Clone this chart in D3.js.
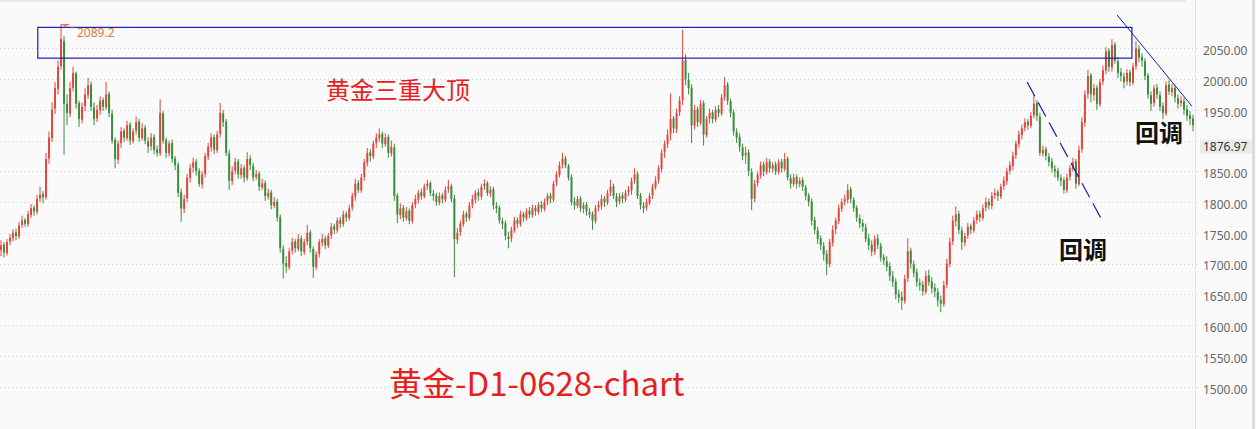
<!DOCTYPE html>
<html><head><meta charset="utf-8">
<script src="https://cdn.jsdelivr.net/npm/d3@7"></script>
<style>
html,body{margin:0;padding:0;background:#fafafa;}
svg{display:block;}
</style></head>
<body><svg id="chart" width="1256" height="429"></svg>
<script>
// ---------- DATA ----------
const open = [
1722,1731,1717,1736,1741,1751,1744,1763,1771,1764,
1779,1791,1784,1806,1813,1808,1871,1904,1952,1984,
2021,2062,1960,1944,1986,2009,1961,1934,1956,1974,
1991,1954,1936,1949,1966,1954,1976,1944,1901,1869,
1896,1916,1904,1926,1899,1916,1931,1904,1921,1899,
1891,1906,1886,1879,1944,1901,1879,1896,1871,1861,
1816,1789,1806,1839,1856,1866,1851,1829,1846,1874,
1889,1906,1884,1911,1944,1931,1879,1834,1851,1866,
1844,1856,1839,1871,1859,1841,1846,1824,1831,1809,
1816,1794,1801,1776,1724,1701,1694,1721,1736,1724,
1741,1719,1736,1751,1724,1694,1716,1734,1741,1729,
1746,1761,1754,1771,1764,1781,1774,1791,1809,1831,
1819,1841,1864,1881,1874,1896,1904,1911,1894,1906,
1879,1889,1811,1779,1791,1774,1786,1769,1796,1804,
1816,1809,1826,1831,1814,1811,1799,1811,1804,1821,
1826,1806,1739,1751,1764,1781,1774,1796,1804,1816,
1809,1826,1831,1814,1821,1794,1791,1769,1766,1744,
1741,1754,1771,1764,1781,1774,1786,1779,1791,1784,
1796,1789,1801,1811,1804,1831,1844,1861,1871,1859,
1841,1801,1794,1806,1789,1796,1784,1781,1769,1791,
1794,1806,1799,1816,1826,1809,1801,1811,1804,1816,
1819,1836,1846,1811,1794,1791,1799,1811,1824,1836,
1854,1881,1894,1911,1936,1919,1946,1966,2031,1999,
1986,1924,1951,1929,1961,1909,1936,1946,1934,1951,
1944,1971,1991,1964,1946,1914,1906,1889,1876,1881,
1849,1806,1831,1844,1861,1849,1866,1854,1861,1849,
1866,1854,1871,1839,1829,1841,1829,1836,1824,1811,
1801,1771,1754,1741,1729,1716,1699,1734,1756,1769,
1789,1801,1804,1821,1804,1791,1774,1766,1759,1741,
1731,1719,1741,1729,1711,1704,1696,1679,1671,1651,
1646,1639,1676,1721,1699,1686,1669,1666,1654,1681,
1671,1661,1654,1641,1634,1666,1699,1736,1769,1781,
1754,1734,1746,1761,1754,1771,1781,1774,1791,1801,
1794,1811,1816,1809,1826,1834,1851,1859,1876,1894,
1909,1921,1931,1924,1941,1961,1939,1879,1886,1874,
1866,1854,1851,1839,1836,1819,1841,1854,1866,1829,
1886,1929,1976,2006,1974,1986,1959,1996,2014,2046,
2019,2056,2029,2011,2004,1996,2011,1994,2021,2049,
2036,2029,2006,1974,1961,1986,1974,1956,1944,1991,
1979,1986,1969,1961,1964,1951,1941,1936];
const high = [
1738,1735,1740,1748,1756,1757,1768,1778,1774,1786,
1797,1795,1812,1825,1818,1880,1915,1962,1995,2030,
2089,2070,1975,1995,2020,2012,1965,1962,1985,2002,
1996,1962,1958,1972,1970,1995,1980,1950,1905,1900,
1922,1920,1932,1930,1920,1939,1935,1928,1925,1905,
1912,1910,1892,1967,1948,1905,1900,1902,1875,1865,
1822,1812,1846,1862,1872,1870,1855,1850,1880,1896,
1912,1910,1916,1961,1950,1935,1885,1858,1872,1870,
1862,1860,1881,1876,1864,1852,1850,1838,1835,1822,
1820,1808,1805,1780,1730,1712,1726,1742,1740,1748,
1746,1740,1763,1755,1728,1720,1740,1748,1745,1750,
1766,1765,1775,1776,1786,1785,1796,1815,1838,1836,
1846,1870,1888,1886,1900,1912,1920,1915,1912,1910,
1900,1895,1815,1798,1795,1792,1790,1800,1812,1820,
1822,1830,1836,1834,1820,1815,1816,1815,1826,1836,
1830,1812,1758,1770,1786,1785,1800,1812,1820,1822,
1830,1837,1834,1826,1825,1800,1795,1775,1770,1752,
1760,1776,1775,1786,1784,1790,1792,1796,1795,1800,
1802,1806,1815,1815,1835,1850,1866,1880,1875,1862,
1845,1808,1810,1810,1800,1800,1790,1785,1795,1802,
1812,1810,1820,1836,1830,1815,1815,1816,1820,1826,
1840,1855,1850,1815,1800,1806,1815,1830,1842,1860,
1886,1900,1918,1977,1940,1952,1972,2080,2040,2010,
1992,1958,1955,1966,1965,1940,1952,1950,1956,1958,
1976,2003,1995,1968,1950,1920,1912,1895,1890,1886,
1855,1836,1850,1866,1866,1872,1870,1865,1866,1870,
1870,1880,1874,1845,1846,1845,1840,1840,1828,1815,
1806,1776,1760,1746,1735,1722,1740,1762,1775,1796,
1806,1812,1829,1825,1808,1795,1780,1772,1765,1748,
1738,1746,1748,1734,1716,1712,1702,1688,1676,1658,
1655,1682,1741,1726,1705,1692,1676,1672,1688,1690,
1678,1668,1660,1648,1672,1708,1742,1778,1793,1786,
1760,1750,1766,1765,1776,1786,1786,1796,1808,1806,
1816,1822,1820,1830,1842,1856,1866,1882,1900,1916,
1926,1936,1935,1946,1974,1966,1945,1892,1890,1880,
1872,1860,1856,1845,1840,1846,1860,1872,1870,1892,
1938,1982,2015,2010,1992,1990,2000,2022,2052,2050,
2065,2060,2036,2018,2010,2016,2015,2026,2062,2055,
2042,2034,2010,1980,1990,1992,1980,1962,1996,1998,
1992,1990,1975,1972,1970,1958,1948,1942];
const low = [
1712,1710,1713,1730,1736,1738,1740,1758,1760,1760,
1774,1778,1780,1800,1798,1804,1862,1898,1943,1975,
2015,1877,1925,1938,1980,1952,1922,1928,1948,1968,
1948,1925,1930,1942,1948,1950,1938,1895,1855,1862,
1888,1898,1900,1893,1895,1910,1898,1900,1894,1880,
1884,1878,1874,1875,1895,1872,1874,1864,1852,1808,
1768,1782,1800,1832,1848,1843,1825,1822,1840,1868,
1882,1878,1880,1905,1922,1875,1820,1828,1845,1838,
1838,1832,1835,1852,1834,1836,1818,1820,1802,1804,
1788,1790,1768,1718,1676,1685,1690,1715,1718,1720,
1712,1714,1730,1718,1677,1690,1710,1728,1724,1725,
1740,1748,1750,1758,1760,1768,1770,1786,1802,1815,
1815,1835,1858,1866,1870,1888,1898,1888,1890,1872,
1874,1802,1766,1772,1768,1770,1764,1765,1790,1798,
1804,1806,1820,1810,1802,1794,1795,1798,1800,1815,
1800,1678,1732,1745,1760,1768,1770,1790,1798,1802,
1804,1820,1810,1808,1788,1782,1765,1756,1738,1725,
1735,1750,1758,1760,1768,1770,1774,1775,1778,1780,
1784,1785,1795,1798,1800,1826,1840,1855,1855,1835,
1795,1788,1790,1784,1782,1778,1774,1755,1765,1785,
1788,1792,1795,1810,1805,1792,1796,1798,1800,1810,
1812,1830,1805,1788,1782,1786,1795,1805,1820,1830,
1848,1872,1888,1900,1912,1912,1940,1958,1990,1975,
1896,1918,1922,1925,1892,1905,1928,1928,1930,1938,
1940,1965,1958,1938,1908,1896,1882,1868,1862,1842,
1787,1800,1825,1838,1842,1845,1848,1848,1844,1845,
1848,1850,1835,1822,1825,1822,1824,1818,1803,1793,
1762,1748,1732,1722,1705,1681,1694,1728,1748,1764,
1784,1795,1798,1798,1784,1768,1758,1752,1735,1722,
1712,1714,1724,1703,1698,1688,1672,1662,1642,1636,
1625,1635,1670,1692,1678,1662,1656,1648,1650,1664,
1652,1645,1630,1621,1630,1660,1694,1730,1760,1748,
1722,1728,1740,1748,1750,1765,1768,1770,1785,1788,
1788,1805,1802,1805,1820,1828,1845,1852,1870,1888,
1902,1915,1918,1920,1936,1932,1875,1874,1868,1858,
1848,1840,1834,1826,1814,1815,1835,1850,1822,1826,
1880,1922,1968,1962,1965,1950,1955,1990,2008,2012,
2012,2025,2002,1996,1985,1990,1988,1990,2015,2028,
2020,1998,1968,1948,1955,1968,1948,1935,1940,1974,
1972,1962,1952,1955,1942,1932,1925,1915];
const close = [
1730,1718,1735,1742,1750,1745,1762,1770,1765,1780,
1790,1785,1805,1812,1808,1870,1905,1950,1985,2020,
2065,1960,1945,1985,2010,1960,1935,1955,1975,1990,
1955,1935,1950,1965,1955,1975,1945,1900,1870,1895,
1915,1905,1925,1900,1915,1930,1905,1920,1900,1890,
1905,1885,1880,1945,1900,1880,1895,1870,1860,1815,
1790,1805,1840,1855,1865,1850,1830,1845,1875,1890,
1905,1885,1910,1945,1930,1880,1835,1850,1865,1845,
1855,1840,1870,1860,1840,1845,1825,1830,1810,1815,
1795,1800,1775,1725,1700,1695,1720,1735,1725,1740,
1720,1735,1750,1725,1695,1715,1735,1740,1730,1745,
1760,1755,1770,1765,1780,1775,1790,1810,1830,1820,
1840,1865,1880,1875,1895,1905,1910,1895,1905,1880,
1890,1810,1780,1790,1775,1785,1770,1795,1805,1815,
1810,1825,1830,1815,1810,1800,1810,1805,1820,1825,
1805,1740,1750,1765,1780,1775,1795,1805,1815,1810,
1825,1830,1815,1820,1795,1790,1770,1765,1745,1740,
1755,1770,1765,1780,1775,1785,1780,1790,1785,1795,
1790,1800,1810,1805,1830,1845,1860,1870,1860,1840,
1800,1795,1805,1790,1795,1785,1780,1770,1790,1795,
1805,1800,1815,1825,1810,1800,1810,1805,1815,1820,
1835,1845,1810,1795,1790,1800,1810,1825,1835,1855,
1880,1895,1910,1935,1920,1945,1965,2030,2000,1985,
1925,1950,1930,1960,1910,1935,1945,1935,1950,1945,
1970,1990,1965,1945,1915,1905,1890,1875,1880,1850,
1805,1830,1845,1860,1850,1865,1855,1860,1850,1865,
1855,1870,1840,1830,1840,1830,1835,1825,1810,1800,
1770,1755,1740,1730,1715,1700,1735,1755,1770,1790,
1800,1805,1820,1805,1790,1775,1765,1760,1740,1730,
1720,1740,1730,1710,1705,1695,1680,1670,1650,1645,
1640,1675,1720,1700,1685,1670,1665,1655,1680,1670,
1660,1655,1640,1635,1665,1700,1735,1770,1780,1755,
1735,1745,1760,1755,1770,1780,1775,1790,1800,1795,
1810,1815,1810,1825,1835,1850,1860,1875,1895,1910,
1920,1930,1925,1940,1960,1940,1880,1885,1875,1865,
1855,1850,1840,1835,1820,1840,1855,1865,1830,1885,
1930,1975,2005,1975,1985,1960,1995,2015,2045,2020,
2055,2030,2010,2005,1995,2010,1995,2020,2050,2035,
2030,2005,1975,1960,1985,1975,1955,1945,1990,1980,
1985,1970,1960,1965,1950,1940,1935,1925];

const gridPrices = [1500,1550,1600,1650,1700,1750,1800,1850,1900,1950,2000,2050];
const tickPrices = [1500,1550,1600,1650,1700,1750,1800,1850,1950,2000,2050];
const lastPriceLabel = "1876.97";
const peakIndex = 20, peakLabel = "2089.2";
// annotation geometry in data units (candle index, price)
const boxIdx = [12.6, 377.3], boxPrice = [2034, 2084];
const dashTrend = [[342.4, 1995], [367.4, 1770]];
const solidTrend = [[372.4, 2104], [397.3, 1956]];
const titleTop = "黄金三重大顶";
const titleBottom = "黄金-D1-0628-chart";
const pullback = "回调";

// ---------- DRAW ----------
const W = 1256, H = 429, plotRight = 1194;
const N = close.length;
const svg = d3.select("#chart");
svg.append("rect").attr("width", W).attr("height", H).attr("fill", "#fafafa");
svg.append("rect").attr("x",0).attr("y",0).attr("width",1186).attr("height",2).attr("fill","#ebebeb");

const y = d3.scaleLinear().domain([1500, 2050]).range([386.7, 48.3]);
const x = d3.scaleBand().domain(d3.range(N)).range([0, plotRight]).paddingInner(0.34);
const xl = d3.scaleLinear().domain([0, N]).range([0, plotRight]);

// grid
svg.append("g").selectAll("line").data(gridPrices).join("line")
  .attr("x1", 0).attr("x2", 1200)
  .attr("y1", d => Math.round(y(d)) + 0.5).attr("y2", d => Math.round(y(d)) + 0.5)
  .attr("stroke", "#ccd3da").attr("stroke-width", 1).attr("stroke-dasharray", "1,3");

// axis separators
svg.append("line").attr("x1",1195.5).attr("x2",1195.5).attr("y1",0).attr("y2",H).attr("stroke","#e3e3e3");
svg.append("line").attr("x1",1253.5).attr("x2",1253.5).attr("y1",0).attr("y2",H).attr("stroke","#cfcfcf").attr("stroke-width",2);

// candles
const up = "#e2463d", down = "#3a8d3c";
const cg = svg.append("g");
const idx = d3.range(N);
cg.selectAll("line.wick").data(idx).join("line").attr("class","wick")
  .attr("x1", i => x(i) + x.bandwidth()/2).attr("x2", i => x(i) + x.bandwidth()/2)
  .attr("y1", i => y(Math.max(high[i], open[i], close[i])))
  .attr("y2", i => y(Math.min(low[i], open[i], close[i])))
  .attr("stroke", i => close[i] >= open[i] ? up : down).attr("stroke-width", 1);
cg.selectAll("rect.body").data(idx).join("rect").attr("class","body")
  .attr("x", i => x(i)).attr("width", x.bandwidth())
  .attr("y", i => y(Math.max(open[i], close[i])))
  .attr("height", i => Math.max(1, Math.abs(y(open[i]) - y(close[i]))))
  .attr("fill", i => close[i] >= open[i] ? up : down);

// y axis labels
const axis = d3.axisRight(y).tickValues(tickPrices).tickFormat(d3.format(".2f")).tickSize(0).tickPadding(0);
const ag = svg.append("g").attr("transform", "translate(1203,2.5)").call(axis);
ag.select(".domain").remove();
ag.selectAll("text").attr("fill", "#666").style("font-family", "'Noto Sans', 'Open Sans', sans-serif").style("font-size", "12px");

// last price label
svg.append("rect").attr("x", 1200).attr("y", 139.5).attr("width", 52).attr("height", 14).attr("fill", "#ebebeb");
svg.append("text").attr("x", 1203).attr("y", 150.5).text(lastPriceLabel)
  .attr("fill", "#333").style("font-family", "'Noto Sans', 'Open Sans', sans-serif").style("font-size", "12px");

// box
const blue = "#1c1cb0";
svg.append("rect")
  .attr("x", xl(boxIdx[0])).attr("y", y(boxPrice[1]))
  .attr("width", xl(boxIdx[1]) - xl(boxIdx[0])).attr("height", y(boxPrice[0]) - y(boxPrice[1]))
  .attr("fill", "none").attr("stroke", blue).attr("stroke-width", 1.2);

const lineGen = d3.line().x(d => xl(d[0])).y(d => y(d[1]));
svg.append("path").attr("d", lineGen(dashTrend)).attr("stroke", blue).attr("stroke-width", 1.2)
  .attr("fill", "none").attr("stroke-dasharray", "16,7");
svg.append("path").attr("d", lineGen(solidTrend)).attr("stroke", blue).attr("stroke-width", 1)
  .attr("fill", "none");

// peak marker + label
const px = x(peakIndex) + x.bandwidth()/2, py = y(high[peakIndex]);
svg.append("line").attr("x1", px).attr("x2", px + 8).attr("y1", py + 0.5).attr("y2", py + 0.5).attr("stroke", "#e07a3c").attr("stroke-width", 1.5);
svg.append("path").attr("d", `M${px+2},${py} L${px+6},${py} L${px+4},${py+3} Z`).attr("fill", "#e07a3c");
svg.append("line").attr("x1", px + 10).attr("x2", px + 14).attr("y1", py + 3.5).attr("y2", py + 3.5).attr("stroke", "#e07a3c").attr("stroke-dasharray", "2,1");
svg.append("text").attr("x", 77).attr("y", 37).text(peakLabel)
  .attr("fill", "#e07a3c").style("font-family", "'Noto Sans', sans-serif").style("font-size", "12px");

// texts
const cjk = "'Noto Sans CJK SC', 'Noto Sans', sans-serif";
svg.append("text").attr("x", 326).attr("y", 99).text(titleTop)
  .attr("fill", "#e8201a").style("font-family", cjk).style("font-size", "24px");
svg.append("text").attr("x", 389).attr("y", 396).text(titleBottom)
  .attr("fill", "#e8201a").style("font-family", cjk).style("font-size", "33px");
svg.append("text").attr("x", 1059).attr("y", 259).text(pullback)
  .attr("fill", "#111").style("font-family", cjk).style("font-size", "24px").style("font-weight", "bold");
svg.append("text").attr("x", 1135).attr("y", 142).text(pullback)
  .attr("fill", "#111").style("font-family", cjk).style("font-size", "24px").style("font-weight", "bold");
</script>
</body></html>
